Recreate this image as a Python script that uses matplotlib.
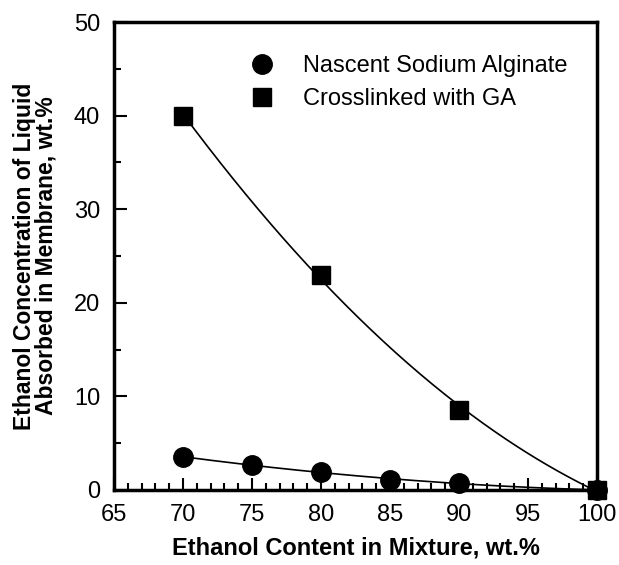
import numpy as np
import matplotlib
matplotlib.use('Agg')
import matplotlib.pyplot as plt
from matplotlib.ticker import MultipleLocator

plt.rcParams['font.family'] = ['Liberation Sans', 'DejaVu Sans']

# data
ethanol = [70, 75, 80, 85, 90, 100]
nascent = [3.5, 2.7, 1.9, 1.1, 0.7, 0.0]
ga_x = [70, 80, 90, 100]
crosslinked = [40.0, 23.0, 8.5, 0.0]

fig = plt.figure(figsize=(6.19, 5.65), dpi=100)
ax = fig.add_axes([0.184, 0.133, 0.7805, 0.828])

# smooth trend lines through the points (quadratic fit)
xs = np.linspace(70, 100, 200)
p_ga = np.polyfit(ga_x, crosslinked, 2)
p_na = np.polyfit(ethanol, nascent, 2)
ax.plot(xs, np.polyval(p_ga, xs), color='black', lw=1.2, zorder=2)
ax.plot(xs, np.polyval(p_na, xs), color='black', lw=1.2, zorder=2)

ax.plot(ethanol, nascent, 'o', color='black', ms=14, ls='none',
        label='Nascent Sodium Alginate', zorder=3, clip_on=False)
ax.plot(ga_x, crosslinked, 's', color='black', ms=13, ls='none',
        label='Crosslinked with GA', zorder=3, clip_on=False)

ax.set_xlim(65, 100)
ax.set_ylim(0, 50)
ax.xaxis.set_major_locator(MultipleLocator(5))
ax.xaxis.set_minor_locator(MultipleLocator(1))
ax.yaxis.set_major_locator(MultipleLocator(10))
ax.yaxis.set_minor_locator(MultipleLocator(5))
ax.tick_params(which='both', direction='in', top=False, right=False,
               width=1.5, labelsize=17, pad=10)
ax.tick_params(which='major', length=9)
ax.tick_params(which='minor', length=5)
for s in ax.spines.values():
    s.set_linewidth(2.5)

ax.set_xlabel('Ethanol Content in Mixture, wt.%', fontsize=17,
              fontweight='bold', labelpad=8)
ax.set_ylabel('Ethanol Concentration of Liquid\nAbsorbed in Membrane, wt.%',
              fontsize=16.5, fontweight='bold', labelpad=12, linespacing=0.88)

ax.legend(loc='upper left', bbox_to_anchor=(0.233, 0.964), frameon=False,
          fontsize=17, handletextpad=0.95, labelspacing=0.45, borderpad=0.2,
          handlelength=1.6)

fig.savefig('out.png', dpi=100)
